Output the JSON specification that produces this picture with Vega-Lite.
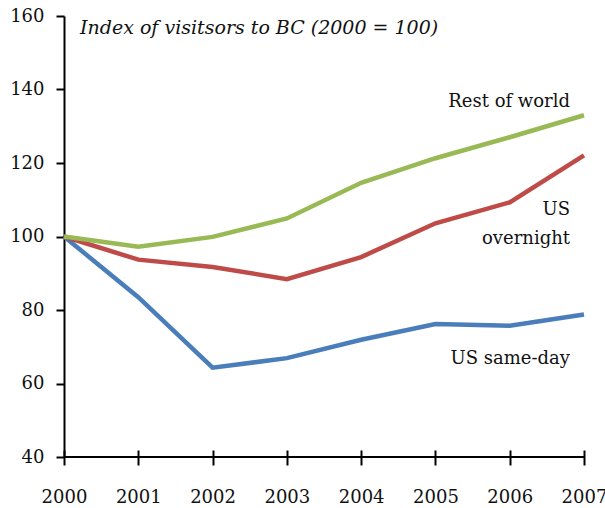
{
  "$schema": "https://vega.github.io/schema/vega-lite/v6.json",
  "autosize": "none",
  "width": 520,
  "height": 441,
  "padding": {"left": 64, "top": 16, "right": 21, "bottom": 51},
  "background": "white",
  "config": {
    "view": {"stroke": null},
    "font": "DejaVu Serif",
    "text": {"font": "DejaVu Serif", "fontSize": 18, "fill": "#111111"}
  },
  "datasets": {
    "visitors": [
      {"year": 2000, "series": "US same-day", "index": 100},
      {"year": 2001, "series": "US same-day", "index": 83.5},
      {"year": 2002, "series": "US same-day", "index": 64.3},
      {"year": 2003, "series": "US same-day", "index": 66.9},
      {"year": 2004, "series": "US same-day", "index": 71.9},
      {"year": 2005, "series": "US same-day", "index": 76.2},
      {"year": 2006, "series": "US same-day", "index": 75.7},
      {"year": 2007, "series": "US same-day", "index": 78.8},
      {"year": 2000, "series": "US overnight", "index": 100},
      {"year": 2001, "series": "US overnight", "index": 93.7},
      {"year": 2002, "series": "US overnight", "index": 91.7},
      {"year": 2003, "series": "US overnight", "index": 88.4},
      {"year": 2004, "series": "US overnight", "index": 94.4},
      {"year": 2005, "series": "US overnight", "index": 103.6},
      {"year": 2006, "series": "US overnight", "index": 109.3},
      {"year": 2007, "series": "US overnight", "index": 122.1},
      {"year": 2000, "series": "Rest of world", "index": 100},
      {"year": 2001, "series": "Rest of world", "index": 97.2},
      {"year": 2002, "series": "Rest of world", "index": 99.9},
      {"year": 2003, "series": "Rest of world", "index": 104.9},
      {"year": 2004, "series": "Rest of world", "index": 114.6},
      {"year": 2005, "series": "Rest of world", "index": 121.3},
      {"year": 2006, "series": "Rest of world", "index": 127},
      {"year": 2007, "series": "Rest of world", "index": 133}
    ],
    "single": [{}]
  },
  "layer": [
    {
      "data": {"name": "single"},
      "mark": {"type": "rule", "color": "#000000", "strokeWidth": 2},
      "encoding": {"y": {"datum": 40, "type": "quantitative"}}
    },
    {
      "data": {"name": "visitors"},
      "mark": {"type": "line", "strokeWidth": 4.5, "strokeJoin": "miter"},
      "encoding": {
        "x": {
          "field": "year",
          "type": "quantitative",
          "scale": {"domain": [2000, 2007], "nice": false, "zero": false},
          "axis": {
            "title": null,
            "values": [2000, 2001, 2002, 2003, 2004, 2005, 2006, 2007],
            "format": "d",
            "domain": false,
            "grid": false,
            "offset": -7,
            "tickSize": 15,
            "tickWidth": 2,
            "tickColor": "#000000",
            "labelFont": "DejaVu Serif",
            "labelFontSize": 18,
            "labelColor": "#111111",
            "labelPadding": 23,
            "labelFlush": false
          }
        },
        "y": {
          "field": "index",
          "type": "quantitative",
          "scale": {"domain": [40, 160], "nice": false, "zero": false},
          "axis": {
            "title": null,
            "values": [40, 50, 60, 70, 80, 90, 100, 110, 120, 130, 140, 150, 160],
            "labelExpr": "datum.value % 20 == 0 ? datum.label : ''",
            "grid": false,
            "domainColor": "#000000",
            "domainWidth": 2,
            "tickColor": "#000000",
            "tickWidth": 2,
            "tickSize": 8,
            "labelFont": "DejaVu Serif",
            "labelFontSize": 18,
            "labelColor": "#111111",
            "labelPadding": 12,
            "labelFlush": false
          }
        },
        "color": {
          "field": "series",
          "type": "nominal",
          "scale": {
            "domain": ["US same-day", "US overnight", "Rest of world"],
            "range": ["#4a7ebb", "#be4b48", "#98b954"]
          },
          "legend": null
        }
      }
    },
    {
      "data": {"name": "single"},
      "mark": {"type": "text", "text": "Index of visitsors to BC (2000 = 100)", "fontStyle": "italic", "fontSize": 19, "align": "left", "baseline": "middle", "dx": 16},
      "encoding": {"x": {"datum": 2000, "type": "quantitative"}, "y": {"datum": 156.7, "type": "quantitative"}}
    },
    {
      "data": {"name": "single"},
      "mark": {"type": "text", "text": "Rest of world", "align": "right", "baseline": "middle", "dx": -14},
      "encoding": {"x": {"datum": 2007, "type": "quantitative"}, "y": {"datum": 136.6, "type": "quantitative"}}
    },
    {
      "data": {"name": "single"},
      "mark": {"type": "text", "text": "US", "align": "right", "baseline": "middle", "dx": -14},
      "encoding": {"x": {"datum": 2007, "type": "quantitative"}, "y": {"datum": 107.1, "type": "quantitative"}}
    },
    {
      "data": {"name": "single"},
      "mark": {"type": "text", "text": "overnight", "align": "right", "baseline": "middle", "dx": -14},
      "encoding": {"x": {"datum": 2007, "type": "quantitative"}, "y": {"datum": 99.4, "type": "quantitative"}}
    },
    {
      "data": {"name": "single"},
      "mark": {"type": "text", "text": "US same-day", "align": "right", "baseline": "middle", "dx": -14},
      "encoding": {"x": {"datum": 2007, "type": "quantitative"}, "y": {"datum": 66.6, "type": "quantitative"}}
    }
  ]
}
